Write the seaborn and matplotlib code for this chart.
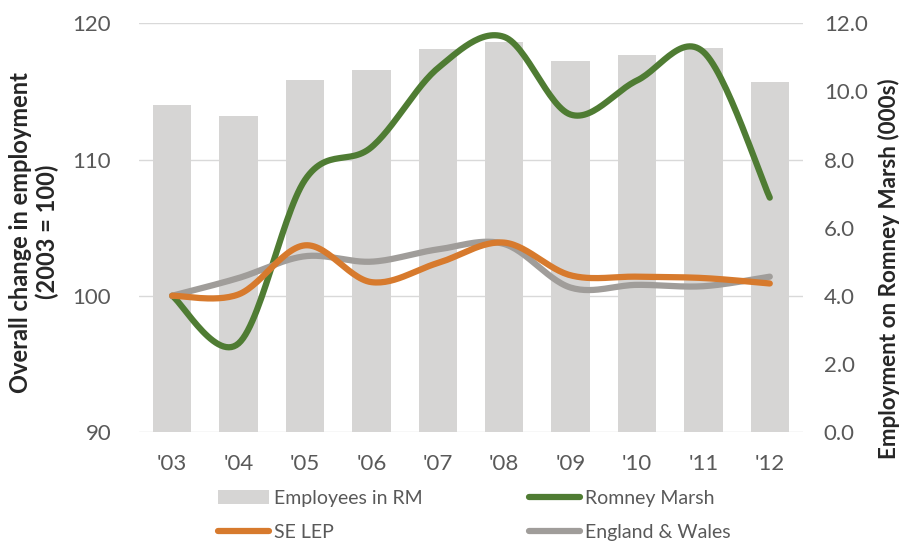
import numpy as np
import pandas as pd
import matplotlib
matplotlib.use("Agg")
import matplotlib.pyplot as plt
import seaborn as sns
from matplotlib.patches import Patch
from matplotlib.lines import Line2D

years = ["'03", "'04", "'05", "'06", "'07", "'08", "'09", "'10", "'11", "'12"]
employees_rm = [9.6, 9.27, 10.32, 10.64, 11.23, 11.44, 10.88, 11.08, 11.26, 10.29]
romney_marsh = [100.0, 96.5, 108.5, 110.9, 116.7, 119.0, 113.3, 115.8, 117.9, 107.2]
se_lep = [100.0, 100.1, 103.7, 101.0, 102.4, 103.9, 101.5, 101.4, 101.3, 100.9]
england_wales = [100.0, 101.3, 102.9, 102.5, 103.4, 103.8, 100.6, 100.8, 100.7, 101.4]

BAR_C = "#D6D5D4"
GREEN = "#4F7C33"
ORANGE = "#D77A2D"
GRAY = "#A09D9A"
TXT = "#595959"
LBL = "#262626"

sns.set_theme(style="white")
plt.rcParams["font.family"] = ["Lato", "DejaVu Sans"]


def smooth(y, n=30):
    # Excel-style smoothed line (Catmull-Rom Bezier) through the data points
    y = np.asarray(y, float)
    x = np.arange(len(y), dtype=float)
    P = np.column_stack([x, y])
    out = [P[0]]
    for i in range(len(P) - 1):
        p0 = P[i - 1] if i > 0 else P[i]
        p1, p2 = P[i], P[i + 1]
        p3 = P[i + 2] if i + 2 < len(P) else P[i + 1]
        c1 = p1 + (p2 - p0) / 6
        c2 = p2 - (p3 - p1) / 6
        t = np.linspace(0, 1, n)[1:, None]
        seg = (1 - t) ** 3 * p1 + 3 * (1 - t) ** 2 * t * c1 + 3 * (1 - t) * t ** 2 * c2 + t ** 3 * p2
        out.extend(seg)
    out = np.array(out)
    return out[:, 0], out[:, 1]


fig = plt.figure(figsize=(9, 5.41), dpi=100)
ax = fig.add_axes([0.1544, 0.2015, 0.7378, 0.7555])

bar_df = pd.DataFrame({"year": years, "emp": employees_rm})
sns.barplot(data=bar_df, x="year", y="emp", color=BAR_C, width=0.58, ax=ax,
            saturation=1, edgecolor="none")
ax.set_xlabel("")
ax.set_xlim(-0.5, 9.5)

ax2 = ax.twinx()

ax.set_ylim(0, 12)
ticks_r = np.arange(0, 12.1, 2)
ax.set_yticks(ticks_r)
ax.set_yticklabels([f"{v:.1f}" for v in ticks_r])
ax.yaxis.tick_right()
ax.yaxis.set_label_position("right")
ax.set_ylabel("Employment on Romney Marsh (000s)", fontsize=16.2, fontweight="bold",
              color=LBL)
ax.yaxis.set_label_coords(1.113, 0.40)

for vals, col in [(romney_marsh, GREEN), (england_wales, GRAY), (se_lep, ORANGE)]:
    xs, ys = smooth(vals)
    sns.lineplot(x=xs, y=ys, ax=ax2, color=col, linewidth=4.5, sort=False,
                 estimator=None, solid_capstyle="round")
ax2.yaxis.tick_left()
ax2.yaxis.set_label_position("left")
ax2.set_ylim(90, 120)
ax2.set_yticks([90, 100, 110, 120])
ax2.set_ylabel("Overall change in employment\n(2003 = 100)", fontsize=17,
               fontweight="bold", color=LBL, linespacing=1.15)
ax2.yaxis.set_label_coords(-0.121, 0.489)
ax2.set_xlim(-0.5, 9.5)

for a in (ax, ax2):
    for s in a.spines.values():
        s.set_visible(False)
    a.tick_params(axis="both", length=0, labelsize=16, labelcolor=TXT)
ax.tick_params(axis="y", pad=15)
ax2.tick_params(axis="y", pad=20)
ax.tick_params(axis="x", pad=16)

ax.set_axisbelow(True)
ax.grid(axis="y", color="#D9D9D9", linewidth=1)
for gl, v in zip(ax.get_ygridlines(), ticks_r):
    gl.set_visible(int(v) % 4 == 0)
ax2.grid(False)

handles = [
    Patch(facecolor=BAR_C, edgecolor="none", label="Employees in RM"),
    Line2D([], [], color=ORANGE, lw=4.5, label="SE LEP", solid_capstyle="round"),
    Line2D([], [], color=GREEN, lw=4.5, label="Romney Marsh", solid_capstyle="round"),
    Line2D([], [], color=GRAY, lw=4.5, label="England & Wales", solid_capstyle="round"),
]
fig.legend(handles=handles, ncol=2, loc="upper center", bbox_to_anchor=(0.527, 0.095),
           frameon=False, fontsize=14, labelcolor=TXT, handlelength=2.6,
           handleheight=0.7, handletextpad=0.25, columnspacing=5.5, labelspacing=0.9,
           borderaxespad=0, borderpad=0)

fig.savefig("out.png", dpi=100)
